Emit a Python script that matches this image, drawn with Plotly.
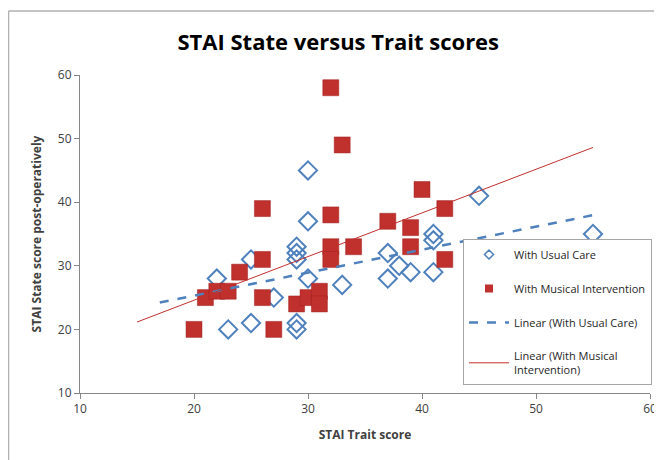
import numpy as np
import plotly.graph_objects as go

# With Usual Care
usual_x = [22, 23, 25, 25, 27, 29, 29, 29, 29, 29, 30, 30, 30, 33, 37, 37, 38, 39, 41, 41, 41, 45, 55]
usual_y = [28, 20, 31, 21, 25, 33, 32, 31, 21, 20, 45, 37, 28, 27, 32, 28, 30, 29, 35, 34, 29, 41, 35]

# With Musical Intervention
music_x = [20, 21, 22, 23, 24, 26, 26, 26, 27, 29, 30, 31, 31, 32, 32, 32, 32, 33, 34, 37, 39, 39, 40, 42, 42]
music_y = [20, 25, 26, 26, 29, 39, 31, 25, 20, 24, 25, 26, 24, 58, 38, 33, 31, 49, 33, 37, 36, 33, 42, 39, 31]

usual_trend_range = [17, 55]
music_trend_range = [15, 55]

ticks = [10, 20, 30, 40, 50, 60]

bu, au = np.polyfit(usual_x, usual_y, 1)
bm, am = np.polyfit(music_x, music_y, 1)
ux = np.array(usual_trend_range, dtype=float)
mx = np.array(music_trend_range, dtype=float)

BLUE = "#4F81BD"
RED = "#C0302C"
FONT = "Open Sans, sans-serif"

# page has an 8px body margin; figure sized so it fits the 662x460 window
W, H = 654, 452
L, R, T, B = 72, 12, 67, 67
PW, PH = W - L - R, H - T - B

fig = go.Figure()
# data marks
fig.add_trace(go.Scatter(
    x=usual_x, y=usual_y, mode="markers", showlegend=False,
    marker=dict(symbol="diamond-open", size=14, color=BLUE, line=dict(width=2, color=BLUE))))
fig.add_trace(go.Scatter(
    x=music_x, y=music_y, mode="markers", showlegend=False,
    marker=dict(symbol="square", size=16, color=RED, line=dict(width=0.5, color="#A02020"))))
fig.add_trace(go.Scatter(
    x=ux, y=au + bu * ux, mode="lines", showlegend=False,
    line=dict(color=BLUE, width=2.5, dash="dash")))
fig.add_trace(go.Scatter(
    x=mx, y=am + bm * mx, mode="lines", showlegend=False,
    line=dict(color=RED, width=1)))

# legend entries (small symbols like the original)
fig.add_trace(go.Scatter(x=[None], y=[None], mode="markers", name="With Usual Care",
    marker=dict(symbol="diamond-open", size=7, color=BLUE, line=dict(width=1.5, color=BLUE)),
    legendgroup="a"))
fig.add_trace(go.Scatter(x=[None], y=[None], mode="markers", name="With Musical Intervention",
    marker=dict(symbol="square", size=8, color=RED), legendgroup="b"))
fig.add_trace(go.Scatter(x=[None], y=[None], mode="lines", name="Linear (With Usual Care)",
    line=dict(color=BLUE, width=2.5, dash="dash"), legendgroup="c"))
fig.add_trace(go.Scatter(x=[None], y=[None], mode="lines",
    name="Linear (With Musical<br>Intervention)",
    line=dict(color=RED, width=1), legendgroup="d"))

axis_common = dict(
    showgrid=False, zeroline=False, showline=True, linecolor="#868686", linewidth=1,
    ticks="outside", ticklen=5, tickcolor="#868686", tickvals=ticks,
    tickfont=dict(family=FONT, size=12, color="#404040"),
)

fig.update_layout(
    width=W, height=H,
    margin=dict(l=L, r=R, t=T, b=B, autoexpand=False),
    paper_bgcolor="white", plot_bgcolor="white",
    title=dict(text="<b>STAI State versus Trait scores</b>", x=0.505, xanchor="center",
               y=1 - 34 / H, yanchor="middle",
               font=dict(family=FONT, size=22, color="black")),
    xaxis=dict(range=[10, 60], automargin=False,
               title=dict(text="<b>STAI Trait score</b>", standoff=14,
                          font=dict(family=FONT, size=12, color="#404040")), **axis_common),
    yaxis=dict(range=[10, 60], automargin=False,
               title=dict(text="<b>STAI State score post-operatively</b>", standoff=13,
                          font=dict(family=FONT, size=12, color="#404040")), **axis_common),
    legend=dict(x=(463 - 8 - L) / PW, y=1 - (239 - 8 - T) / PH, xanchor="left", yanchor="top",
                bgcolor="white", bordercolor="#A6A6A6", borderwidth=1,
                traceorder="grouped", tracegroupgap=15,
                font=dict(family=FONT, size=11, color="#262626"),
                itemwidth=40),
    showlegend=True,
)

# chart-area border (visible top and left edges)
fig.add_shape(type="line", xref="paper", yref="paper",
              x0=(0.5 - L) / PW, x1=(0.5 - L) / PW, y0=-B / PH, y1=1 + (T - 3) / PH,
              line=dict(color="#B0B0B0", width=1.5))
fig.add_shape(type="line", xref="paper", yref="paper",
              x0=(0.5 - L) / PW, x1=1 + R / PW, y0=1 + (T - 3) / PH, y1=1 + (T - 3) / PH,
              line=dict(color="#B0B0B0", width=1.5))

fig.write_html("out.html")
